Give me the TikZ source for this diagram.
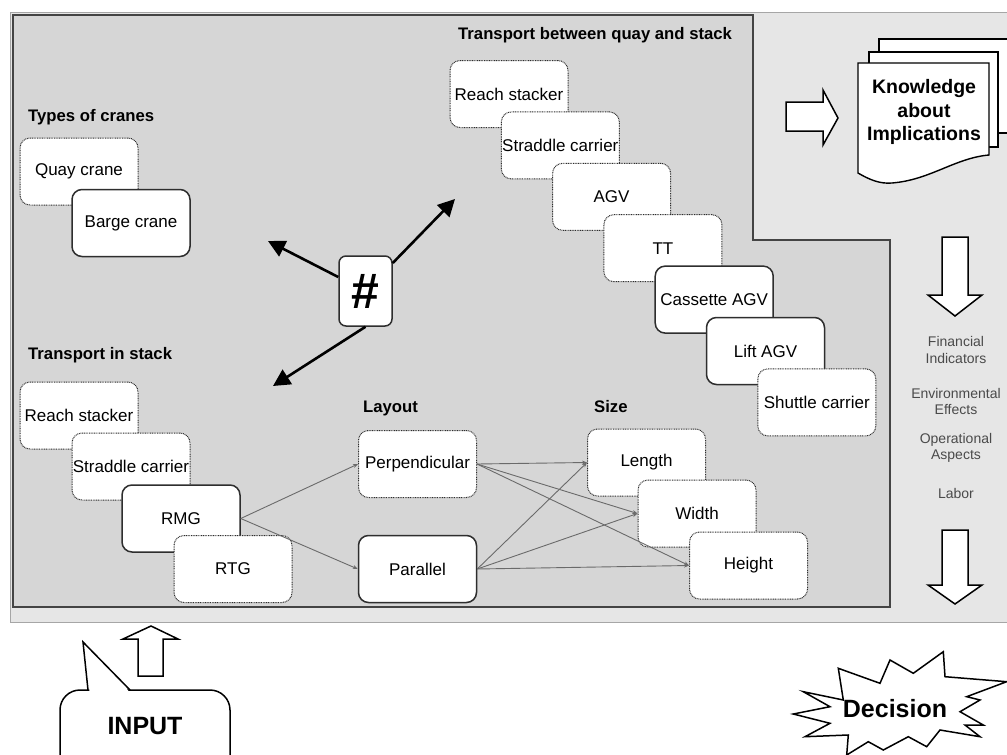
\documentclass[tikz,border=0pt]{standalone}
\usepackage{fontspec}
\setmainfont{Liberation Sans}
\usetikzlibrary{arrows.meta}
\definecolor{outerbg}{HTML}{E6E6E6}
\definecolor{innerbg}{HTML}{D6D6D6}
\definecolor{framec}{HTML}{444444}
\definecolor{edgec}{HTML}{2E2E2E}
\definecolor{linkc}{HTML}{6A6A6A}
\definecolor{sidetext}{HTML}{4A4A4A}
\begin{document}
\begin{tikzpicture}[x=1pt,y=-1pt,
 base/.style={fill=white, rounded corners=10pt, minimum width=118pt, minimum height=67pt, inner sep=0pt, font=\fontsize{17}{20}\selectfont},
 dbox/.style={base, draw=edgec, line width=1pt, dash pattern=on 0.9pt off 0.8pt},
 sbox/.style={base, draw=edgec, line width=1.5pt},
 grouplabel/.style={anchor=west, inner sep=0pt, font=\bfseries\fontsize{16.7}{19}\selectfont},
 link/.style={draw=linkc, line width=0.9pt, -{Stealth[length=5pt,width=4pt]}},
 bigarrow/.style={draw=black, line width=2.6pt, -{Triangle[length=17pt,width=17pt]}},
 hollow/.style={fill=white, draw=black, line width=1.5pt, line join=miter},
 sidelabel/.style={align=center, text=sidetext, font=\fontsize{14}{16.5}\selectfont, inner sep=0pt},
 bigtext/.style={inner sep=0pt, font=\bfseries\fontsize{25}{30}\selectfont},
]
\useasboundingbox (0,0) rectangle (1007,755);
\clip (0,0) rectangle (1007,755);
\fill[white] (0,0) rectangle (1007,755);

% frames
\fill[outerbg] (10,12) rectangle (1012,622);
\draw[gray!70, line width=0.9pt] (1012,12) -- (10,12) -- (10,622) -- (1012,622);
\filldraw[fill=innerbg, draw=framec, line width=1.2pt] (13,15) -- (753,15) -- (753,240) -- (890,240) -- (890,607) -- (13,607) -- cycle;

% group labels
\node[grouplabel] (lcranes) at (28,117) {Types of cranes};
\node[grouplabel] (lquay) at (458,35) {Transport between quay and stack};
\node[grouplabel] (lstack) at (28,355) {Transport in stack};
\node[grouplabel] (llayout) at (363,408) {Layout};
\node[grouplabel] (lsize) at (594,407) {Size};

% cranes
\node[dbox] (qc) at (79,171.5) {Quay crane};
\node[sbox] (bc) at (131,223) {Barge crane};

% transport between quay and stack
\node[dbox] (rs1) at (509,94) {Reach stacker};
\node[dbox] (sc1) at (560.3,145.4) {Straddle carrier};
\node[dbox] (agv) at (611.6,196.8) {AGV};
\node[dbox] (tt) at (662.9,248.2) {TT};
\node[sbox] (cagv) at (714.2,299.6) {Cassette AGV};
\node[sbox] (lagv) at (765.5,351) {Lift AGV};
\node[dbox] (shc) at (816.8,402.4) {Shuttle carrier};

% transport in stack
\node[dbox] (rs2) at (79,415.5) {Reach stacker};
\node[dbox] (sc2) at (131,466.5) {Straddle carrier};
\node[sbox] (rmg) at (181,518.5) {RMG};
\node[dbox] (rtg) at (233,569) {RTG};

% layout
\node[dbox] (perp) at (417.5,464) {Perpendicular};
\node[sbox] (par) at (417.5,569) {Parallel};

% size
\node[dbox] (len) at (646.5,462.5) {Length};
\node[dbox] (wid) at (697,513.5) {Width};
\node[dbox] (hei) at (748.5,565.5) {Height};

% links
\draw[link] (rmg.east) -- (perp.west);
\draw[link] (rmg.east) -- (par.west);
\foreach \s in {perp,par}{
  \foreach \t in {len,wid,hei}{
    \draw[link] (\s.east) -- (\t.west);
  }
}

% hash node and big arrows
\node[sbox, minimum width=53pt, minimum height=70pt, rounded corners=7pt, font=\bfseries\fontsize{50}{54}\selectfont] (hash) at (365.5,291) {\#};
\coordinate (tipL) at (268,241);
\coordinate (tipU) at (455,199);
\coordinate (tipD) at (273,386);
\draw[bigarrow] (hash) -- (tipL);
\draw[bigarrow] (hash) -- (tipU);
\draw[bigarrow] (hash.south) -- (tipD);

% hollow arrows
\draw[hollow] (786,102) -- (823,102) -- (823,90) -- (838,118) -- (823,145) -- (823,131) -- (786,131) -- cycle;
\draw[hollow] (942,237) -- (968,237) -- (968,295) -- (982,295) -- (955,316) -- (928,295) -- (942,295) -- cycle;
\draw[hollow] (942,530) -- (968,530) -- (968,585) -- (982,585) -- (955,604) -- (928,585) -- (942,585) -- cycle;
\draw[hollow] (151,626) -- (178,639) -- (163,639) -- (163,676) -- (138,676) -- (138,639) -- (123,639) -- cycle;

% document stack
\filldraw[fill=white, draw=black, line width=1.4pt] (879,39) rectangle (1012,133);
\filldraw[fill=white, draw=black, line width=1.4pt] (869,52) rectangle (998,147);
\filldraw[fill=white, draw=black, line width=1.4pt] (858,63) -- (989,63) -- (989,155)
  .. controls (955,158) and (930,180) .. (892,183)
  .. controls (880,184) and (870,180) .. (858,173) -- cycle;
\node[inner sep=0pt, align=center, font=\bfseries\fontsize{19.5}{23.5}\selectfont] (know) at (924,112) {Knowledge\\about\\Implications};

% side labels
\node[sidelabel] (fin) at (956,350) {Financial\\Indicators};
\node[sidelabel] (env) at (956,401.5) {Environmental\\Effects};
\node[sidelabel] (ops) at (956,448) {Operational\\Aspects};
\node[sidelabel] (lab) at (956,493) {Labor};

% input callout
\filldraw[fill=white, draw=black, line width=1.5pt, rounded corners=20pt] (60,775) -- (60,690) -- (230,690) -- (230,775);
\fill[white] (89.5,691) -- (83,642) -- (128.5,691) -- cycle;
\draw[black, line width=1.5pt, line join=miter] (88,690) -- (83,642) -- (130,690);
\node[bigtext] (input) at (145,726) {INPUT};

% decision star
\filldraw[fill=white, draw=black, line width=1.5pt, line join=miter]
 (803.3,691.7) -- (843.3,700) -- (838.3,668.3) -- (880,683.3) -- (890,660) -- (913.3,673.3)
 -- (943.3,651.7) -- (945,676.7) -- (1006.7,681.7) -- (966.7,696.7) -- (980,700) -- (960,711.7)
 -- (983.3,725) -- (965,725) -- (980,736.7) -- (940,730) -- (926.7,746.7) -- (908.3,736.7)
 -- (883.3,750) -- (868.3,741.7) -- (846.7,755) -- (848.3,735) -- (805,736.7) -- (830,723.3)
 -- (793.3,714) -- (830,706.7) -- cycle;
\node[bigtext] (dec) at (895,709) {Decision};
\end{tikzpicture}
\end{document}
